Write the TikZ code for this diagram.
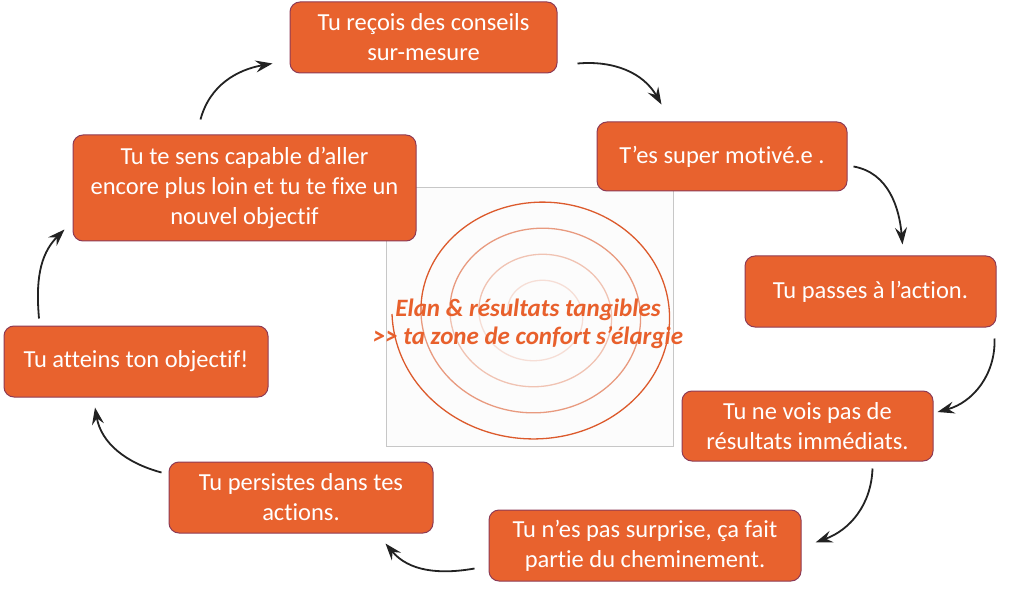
\documentclass[tikz,border=0pt]{standalone}
\usepackage{fontspec}
\setmainfont[Ligatures=NoCommon]{Carlito}
\usetikzlibrary{arrows.meta,calc}

\definecolor{boxfill}{HTML}{E8622E}
\definecolor{boxline}{HTML}{8E3B55}
\definecolor{spiral}{HTML}{DC5A2C}
\definecolor{elantext}{HTML}{E8602C}
\definecolor{ink}{HTML}{222222}

\begin{document}
\begin{tikzpicture}[x=1pt, y=-1pt,
    etape/.style={draw=boxline, line width=1pt, fill=boxfill, rounded corners=10pt, minimum height=71pt, align=center, text=white, font=\fontsize{24.5}{30}\selectfont, inner sep=2pt},
    fleche/.style={-{Stealth[length=17pt, width=12pt, inset=6pt]}, line width=1.8pt, draw=ink},
    centre/.style={text=elantext, font=\fontsize{25}{28}\selectfont\bfseries\itshape, align=center}
]
\fill[white] (0,0) rectangle (1024,609);
\useasboundingbox (0,0) rectangle (1024,609);

% image in the middle
\draw[draw=black!22, fill=black!1] (386,187) rectangle (673,446);
\foreach \k/\op in {0/1,1/0.6,2/0.35,3/0.18}{
  \pgfmathsetmacro{\ta}{180+360*\k}
  \pgfmathsetmacro{\tb}{540+360*\k}
  \draw[spiral, line width=1.3pt, opacity=\op] plot[domain=\ta:\tb, samples=120, smooth]
    ({538+(146-0.0806*(\x-180))*cos(\x)}, {314-0.9*(146-0.0806*(\x-180))*sin(\x)});
}
\node[centre] (elan) at (528,324) {Elan \& résultats tangibles\\>{}> ta zone de confort s’élargie};

\node[etape, minimum width=267pt] (conseils) at (423.5,37.5) {Tu reçois des conseils\\sur-mesure};
\node[etape, minimum width=250pt, minimum height=69pt] (motive) at (722,156.5) {T’es super motivé.e .};
\node[etape, minimum width=251pt] (action) at (870.5,291.5) {Tu passes à l’action.};
\node[etape, minimum width=251pt, minimum height=70pt] (resultats) at (807.5,426) {Tu ne vois pas de\\résultats immédiats.};
\node[etape, minimum width=312pt] (surprise) at (645,545.5) {Tu n’es pas surprise, ça fait\\partie du cheminement.};
\node[etape, minimum width=264pt] (persiste) at (301,497.5) {Tu persistes dans tes\\actions.};
\node[etape, minimum width=264pt] (objectif) at (136,361.5) {Tu atteins ton objectif!};
\node[etape, minimum width=343pt, minimum height=106pt] (plusloin) at (244.5,188) {Tu te sens capable d’aller\\encore plus loin et tu te fixe un\\nouvel objectif};

\draw[fleche] ([shift={(-44,-15)}]plusloin.north) to[out=75, in=190] ([shift={(-17,-10)}]conseils.south west);
\draw[fleche] ([shift={(20,-10)}]conseils.south east) to[out=5, in=120] ([shift={(65,-17)}]motive.north west);
\draw[fleche] ([shift={(6,10)}]motive.east) to[out=-10, in=95] ([shift={(32,-11)}]action.north);
\draw[fleche] ([shift={(-2,11)}]action.south east) to[out=-88, in=15] ([shift={(4,-14)}]resultats.east);
\draw[fleche] ([shift={(65,7)}]resultats.south) to[out=-92, in=20] ([shift={(14,-3)}]surprise.east);
\draw[fleche] ([shift={(-14,23)}]surprise.west) to[out=190, in=-50] ([shift={(-48,10)}]persiste.south east);
\draw[fleche] ([shift={(-7,-25)}]persiste.west) to[out=165, in=-80] ([shift={(-41,10)}]objectif.south);
\draw[fleche] ([shift={(-97,-7)}]objectif.north) to[out=95, in=225] ([shift={(-8,-12)}]plusloin.south west);
\end{tikzpicture}
\end{document}
